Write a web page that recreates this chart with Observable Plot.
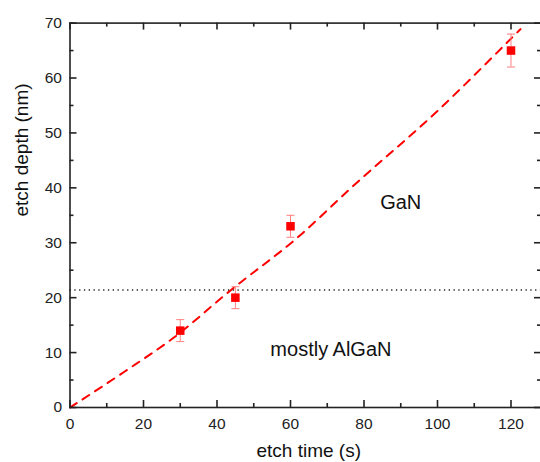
<!DOCTYPE html>
<html><head><meta charset="utf-8">
<script src="https://cdn.jsdelivr.net/npm/d3@7"></script>
<script src="https://cdn.jsdelivr.net/npm/@observablehq/plot@0.6"></script>
<style>
html,body{margin:0;padding:0;background:#fff;}
#chart svg{display:block;}
</style></head><body><div id="chart"></div>
<script>
// measured data
const etchTimes = [30, 45, 60, 120];
const etchDepths = [14, 20, 33, 65];
const depthErrors = [2, 2, 2, 3];
// dashed guide curve
const fitTimes = [0, 15, 28, 44, 62, 77, 100, 119, 122.6];
const fitDepths = [0, 6.6, 12.6, 21.5, 31.0, 40.3, 54.0, 66.5, 68.9];
// AlGaN / GaN interface depth
const interfaceDepth = [21.4];
// ticks
const xMajorTicks = [0, 20, 40, 60, 80, 100, 120];
const xMinorTicks = [10, 30, 50, 70, 90, 110];
const yMajorTicks = [0, 10, 20, 30, 40, 50, 60, 70];
const yMinorTicks = [5, 15, 25, 35, 45, 55, 65];
// annotations
const regionLabels = ["GaN", "mostly AlGaN"];
const regionLabelX = [90, 71];
const regionLabelY = [37.3, 10.6];
const xTitle = "etch time (s)";
const yTitle = "etch depth (nm)";

const points = etchTimes.map((t, i) => ({t, d: etchDepths[i], lo: etchDepths[i] - depthErrors[i], hi: etchDepths[i] + depthErrors[i]}));
const fit = fitTimes.map((t, i) => ({t, d: fitDepths[i]}));
const regions = regionLabels.map((s, i) => ({s, x: regionLabelX[i], y: regionLabelY[i]}));

const W = 540, H = 462;
const mL = 69.5, mR = -1, mT = 22.6, mB = 55;
const fw = W - mL - mR, fh = H - mT - mB;
const major = 7, minor = 4;
const axisColor = "#222";
const capSymbol = {draw(ctx, size) { const w = Math.sqrt(size / Math.PI); ctx.moveTo(-w, 0); ctx.lineTo(w, 0); }};

const chart = Plot.plot({
  width: W, height: H,
  marginLeft: mL, marginRight: mR, marginTop: mT, marginBottom: mB,
  style: {fontFamily: "'Liberation Sans', Arial, sans-serif", color: axisColor, background: "#fff"},
  x: {domain: [0, 128.3]},
  y: {domain: [0, 70]},
  marks: [
    Plot.ruleY(interfaceDepth, {stroke: "#222", strokeWidth: 1.3, strokeDasharray: "1.3,3.5"}),
    Plot.line(fit, {x: "t", y: "d", stroke: "#ff0000", strokeWidth: 2, strokeDasharray: "8,7", curve: "monotone-x"}),
    Plot.ruleX(points, {x: "t", y1: "lo", y2: "hi", stroke: "#ff7f7f", strokeWidth: 1}),
    Plot.dot(points, {x: "t", y: "lo", symbol: capSymbol, r: 4, stroke: "#ff7f7f", fill: "none", strokeWidth: 1}),
    Plot.dot(points, {x: "t", y: "hi", symbol: capSymbol, r: 4, stroke: "#ff7f7f", fill: "none", strokeWidth: 1}),
    Plot.dot(points, {x: "t", y: "d", symbol: "square", r: 4.8, fill: "#ff0000", stroke: "none"}),
    Plot.frame({stroke: axisColor, strokeWidth: 1.6}),
    // inward ticks: bottom, top, left, right
    Plot.tickX(xMajorTicks, {x: d => d, insetTop: fh - major, stroke: axisColor, strokeWidth: 1.6}),
    Plot.tickX(xMinorTicks, {x: d => d, insetTop: fh - minor, stroke: axisColor, strokeWidth: 1.6}),
    Plot.tickX(xMajorTicks, {x: d => d, insetBottom: fh - major, stroke: axisColor, strokeWidth: 1.6}),
    Plot.tickX(xMinorTicks, {x: d => d, insetBottom: fh - minor, stroke: axisColor, strokeWidth: 1.6}),
    Plot.tickY(yMajorTicks, {y: d => d, insetRight: fw - major, stroke: axisColor, strokeWidth: 1.6}),
    Plot.tickY(yMinorTicks, {y: d => d, insetRight: fw - minor, stroke: axisColor, strokeWidth: 1.6}),
    Plot.tickY(yMajorTicks, {y: d => d, insetLeft: fw - major, stroke: axisColor, strokeWidth: 1.6}),
    Plot.tickY(yMinorTicks, {y: d => d, insetLeft: fw - minor, stroke: axisColor, strokeWidth: 1.6}),
    Plot.axisX(xMajorTicks, {tickSize: 0, tickPadding: 10, fontSize: 15.5, label: null}),
    Plot.axisY(yMajorTicks, {tickSize: 0, tickPadding: 8, fontSize: 15.5, label: null}),
    Plot.text([xTitle], {frameAnchor: "bottom", lineAnchor: "bottom", dy: 49, dx: 3, fontSize: 19, fill: "#111"}),
    Plot.text([yTitle], {frameAnchor: "left", rotate: -90, lineAnchor: "bottom", dx: -42.5, dy: 1.2, fontSize: 19, fill: "#111"}),
    Plot.text(regions, {x: "x", y: "y", text: "s", lineAnchor: "middle", fontSize: 20, fill: "#111"})
  ]
});
document.getElementById("chart").appendChild(chart);
</script>
</body></html>
